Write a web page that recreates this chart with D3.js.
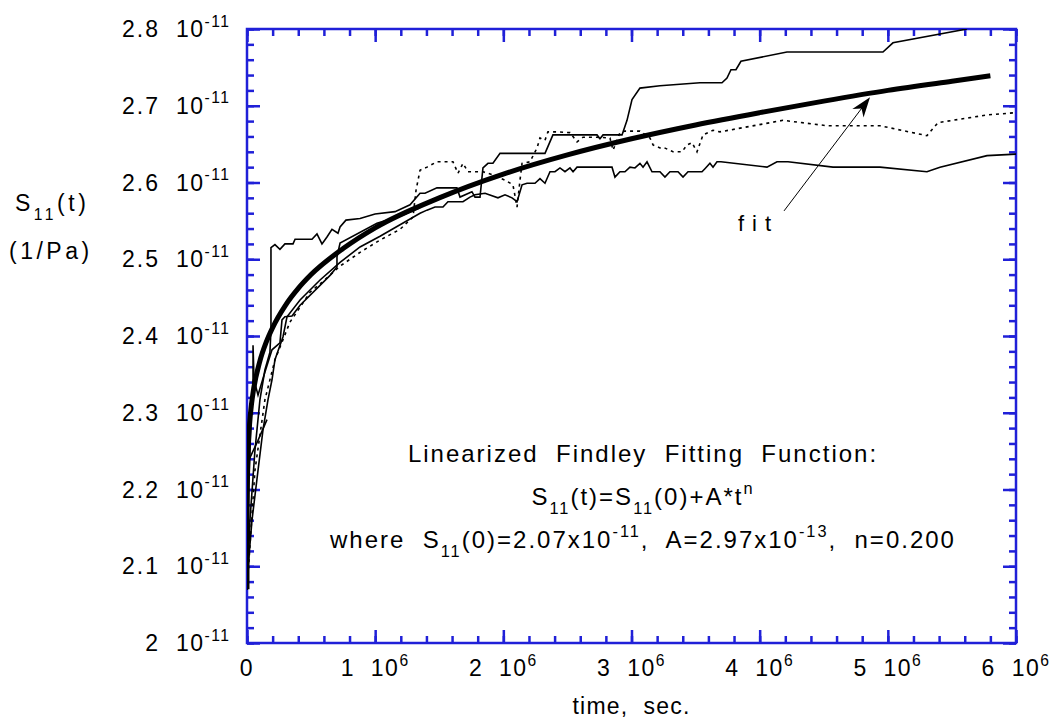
<!DOCTYPE html>
<html>
<head>
<meta charset="utf-8">
<script src="https://cdnjs.cloudflare.com/ajax/libs/d3/7.8.5/d3.min.js"></script>
<style>
  body { margin: 0; background: #fff; }
  svg text { font-family: "Liberation Sans", Arial, Helvetica, sans-serif; fill: #000; white-space: pre; }
</style>
</head>
<body>
<div id="chart"></div>
<script>
// Creep compliance S11(t) vs time. time in units of 1e6 s, compliance in units of 1e-11 1/Pa

// upper solid specimen
var specATime = [0, 0.023, 0.062, 0.101, 0.140, 0.179, 0.187, 0.187, 0.218, 0.257, 0.296, 0.359, 0.375, 0.507, 0.546, 0.585, 0.624, 0.663, 0.710, 0.726, 0.772, 0.882, 0.999, 1.155, 1.272, 1.350, 1.389, 1.482, 1.638, 1.662, 1.755, 1.779, 1.818, 1.841, 1.880, 1.919, 1.974, 2.325, 2.387, 2.731, 2.754, 2.778, 2.926, 2.965, 3.004, 3.066, 3.222, 3.534, 3.706, 3.745, 3.776, 3.815, 3.854, 4.213, 4.962, 5.040, 5.618];
var specAValue = [2.069, 2.160, 2.251, 2.317, 2.356, 2.379, 2.408, 2.515, 2.519, 2.513, 2.520, 2.520, 2.526, 2.526, 2.533, 2.520, 2.529, 2.539, 2.534, 2.542, 2.551, 2.553, 2.559, 2.562, 2.571, 2.586, 2.586, 2.593, 2.593, 2.581, 2.588, 2.581, 2.581, 2.619, 2.625, 2.625, 2.638, 2.638, 2.662, 2.662, 2.657, 2.662, 2.662, 2.681, 2.708, 2.723, 2.726, 2.730, 2.730, 2.736, 2.747, 2.747, 2.758, 2.770, 2.770, 2.782, 2.800];

// lower solid specimen
var specBTime = [0, 0.039, 0.086, 0.125, 0.164, 0.195, 0.218, 0.281, 0.312, 0.414, 0.570, 0.726, 0.882, 1.038, 1.194, 1.350, 1.404, 1.467, 1.529, 1.568, 1.685, 1.740, 1.779, 1.857, 1.958, 2.013, 2.068, 2.107, 2.146, 2.185, 2.247, 2.286, 2.325, 2.364, 2.403, 2.442, 2.481, 2.520, 2.544, 2.575, 2.848, 2.871, 2.910, 2.949, 2.988, 3.027, 3.066, 3.090, 3.121, 3.160, 3.222, 3.261, 3.300, 3.363, 3.402, 3.441, 3.550, 3.573, 3.612, 3.636, 3.667, 3.698, 4.057, 4.135, 4.221, 4.572, 4.939, 5.305, 5.407, 5.774, 6.000];
var specBValue = [2.082, 2.160, 2.225, 2.278, 2.317, 2.343, 2.369, 2.399, 2.425, 2.447, 2.473, 2.496, 2.516, 2.530, 2.545, 2.560, 2.564, 2.568, 2.568, 2.575, 2.575, 2.581, 2.584, 2.586, 2.580, 2.584, 2.580, 2.575, 2.597, 2.599, 2.599, 2.605, 2.599, 2.614, 2.614, 2.619, 2.614, 2.619, 2.614, 2.620, 2.620, 2.607, 2.614, 2.614, 2.620, 2.619, 2.625, 2.620, 2.627, 2.614, 2.614, 2.607, 2.614, 2.614, 2.607, 2.614, 2.614, 2.618, 2.625, 2.620, 2.627, 2.627, 2.620, 2.627, 2.627, 2.620, 2.620, 2.614, 2.620, 2.635, 2.637];

// dotted specimen
var specCTime = [0, 0.062, 0.140, 0.218, 0.335, 0.492, 0.585, 0.726, 0.882, 1.038, 1.194, 1.295, 1.319, 1.350, 1.404, 1.482, 1.607, 1.646, 1.685, 1.724, 1.841, 1.919, 2.013, 2.075, 2.107, 2.130, 2.146, 2.208, 2.263, 2.286, 2.325, 2.348, 2.419, 2.520, 2.575, 2.622, 2.731, 2.832, 2.856, 2.910, 2.949, 3.066, 3.144, 3.168, 3.222, 3.246, 3.324, 3.394, 3.433, 3.472, 3.511, 3.558, 3.636, 3.690, 4.182, 4.525, 4.939, 5.305, 5.391, 5.774, 6.000];
var specCValue = [2.069, 2.225, 2.317, 2.369, 2.418, 2.457, 2.470, 2.491, 2.509, 2.525, 2.539, 2.555, 2.590, 2.616, 2.620, 2.627, 2.627, 2.612, 2.625, 2.614, 2.614, 2.610, 2.603, 2.597, 2.568, 2.603, 2.625, 2.627, 2.645, 2.658, 2.655, 2.666, 2.666, 2.665, 2.653, 2.659, 2.659, 2.658, 2.642, 2.665, 2.667, 2.667, 2.658, 2.649, 2.645, 2.646, 2.640, 2.640, 2.649, 2.652, 2.640, 2.662, 2.668, 2.666, 2.681, 2.674, 2.674, 2.661, 2.678, 2.688, 2.691];

// short early specimens
var specDTime = [0.008, 0.086, 0.156];
var specDValue = [2.236, 2.264, 2.291];
var specETime = [0, 0.016, 0.031, 0.047, 0.047, 0.055, 0.086, 0.140, 0.195, 0.257, 0.273, 0.296, 0.351, 0.414, 0.570, 0.648, 0.702, 0.702, 0.726, 1.014, 1.194, 1.350];
var specEValue = [2.089, 2.212, 2.291, 2.345, 2.388, 2.343, 2.323, 2.353, 2.382, 2.391, 2.421, 2.425, 2.426, 2.440, 2.466, 2.479, 2.490, 2.503, 2.521, 2.547, 2.556, 2.567];

// Findley fit
var fitTime = [0, 0.0002, 0.001, 0.003, 0.005, 0.01, 0.02, 0.035, 0.05, 0.1, 0.15, 0.2, 0.3, 0.4, 0.5, 0.75, 1, 1.5, 2, 2.5, 3, 3.5, 4, 4.5, 5, 5.5, 5.8];
var fitValue = [2.070, 2.156, 2.188, 2.217, 2.233, 2.257, 2.285, 2.311, 2.329, 2.367, 2.392, 2.411, 2.440, 2.462, 2.480, 2.514, 2.541, 2.580, 2.611, 2.636, 2.657, 2.675, 2.691, 2.706, 2.720, 2.732, 2.739];

// axis ticks
var xMajor = [0, 1, 2, 3, 4, 5, 6];
var xLabels = ["0", "1", "2", "3", "4", "5", "6"];
var yMajor = [2.0, 2.1, 2.2, 2.3, 2.4, 2.5, 2.6, 2.7, 2.8];
var yLabels = ["2", "2.1", "2.2", "2.3", "2.4", "2.5", "2.6", "2.7", "2.8"];

var width = 1055, height = 723;
var margin = {top: 29, right: 39, bottom: 80, left: 247};
var axisColor = "#2020d8";

var svg = d3.select("#chart").append("svg")
    .attr("width", width)
    .attr("height", height);

var x = d3.scaleLinear().domain([0, 6]).range([margin.left, width - margin.right]);
var y = d3.scaleLinear().domain([2.0, 2.8]).range([height - margin.bottom, margin.top]);

var xMinor = d3.range(0, 6.0001, 0.2);
var yMinor = d3.range(2.0, 2.8001, 0.02);

// text with sub/superscripts, parts = [[text, "n"|"sub"|"sup"], ...]
function rich(sel, parts, size) {
    var cur = 0;
    parts.forEach(function (p) {
        var shift = p[1] === "sup" ? -size * 0.45 : (p[1] === "sub" ? size * 0.38 : 0);
        sel.append("tspan")
            .attr("dy", shift - cur)
            .attr("font-size", p[1] === "n" ? size : size * 0.68)
            .text(p[0]);
        cur = shift;
    });
}

// ticks on all four sides, pointing inward
function ticks(gen, tr, vals, len) {
    var g = svg.append("g")
        .attr("transform", tr)
        .call(gen.tickValues(vals).tickSize(-len).tickSizeOuter(0).tickFormat(""));
    g.select(".domain").remove();
    g.selectAll("line").attr("stroke", axisColor).attr("stroke-width", 2.5);
}
var x0 = height - margin.bottom, x1 = margin.top;
ticks(d3.axisBottom(x), "translate(0," + x0 + ")", xMinor, 7);
ticks(d3.axisBottom(x), "translate(0," + x0 + ")", xMajor, 13);
ticks(d3.axisTop(x), "translate(0," + x1 + ")", xMinor, 7);
ticks(d3.axisTop(x), "translate(0," + x1 + ")", xMajor, 13);
ticks(d3.axisLeft(y), "translate(" + margin.left + ",0)", yMinor, 7);
ticks(d3.axisLeft(y), "translate(" + margin.left + ",0)", yMajor, 13);
ticks(d3.axisRight(y), "translate(" + (width - margin.right) + ",0)", yMinor, 7);
ticks(d3.axisRight(y), "translate(" + (width - margin.right) + ",0)", yMajor, 13);

svg.append("rect")
    .attr("x", x(0)).attr("y", y(2.8))
    .attr("width", x(6) - x(0)).attr("height", y(2.0) - y(2.8))
    .attr("fill", "none")
    .attr("stroke", axisColor)
    .attr("stroke-width", 2.5);

// tick labels
var fs = 23;
svg.append("g").selectAll("text")
    .data(xMajor)
    .enter().append("text")
    .attr("x", d => x(d))
    .attr("y", height - margin.bottom + 33)
    .attr("text-anchor", "middle")
    .style("letter-spacing", "1.5px")
    .each(function (d, i) {
        if (d === 0) rich(d3.select(this), [[xLabels[i], "n"]], fs);
        else rich(d3.select(this), [[xLabels[i] + "  10", "n"], ["6", "sup"]], fs);
    });

svg.append("g").selectAll("text")
    .data(yMajor)
    .enter().append("text")
    .attr("x", margin.left - 87)
    .attr("y", d => y(d) + 8)
    .attr("text-anchor", "end")
    .style("letter-spacing", "2px")
    .text((d, i) => yLabels[i])
    .attr("font-size", fs);

svg.append("g").selectAll("text")
    .data(yMajor)
    .enter().append("text")
    .attr("x", margin.left - 71)
    .attr("y", d => y(d) + 8)
    .style("letter-spacing", "1.5px")
    .each(function () {
        rich(d3.select(this), [["10", "n"], ["-11", "sup"]], fs);
    });

// axis titles
var yt1 = svg.append("text").attr("x", 15).attr("y", 211).style("letter-spacing", "3.5px");
rich(yt1, [["S", "n"], ["11", "sub"], ["(t)", "n"]], fs);
svg.append("text").attr("x", 9).attr("y", 259)
    .attr("font-size", fs).style("letter-spacing", "3.5px")
    .text("(1/Pa)");
svg.append("text")
    .attr("x", (x(0) + x(6)) / 2).attr("y", 714)
    .attr("text-anchor", "middle")
    .attr("font-size", fs).style("letter-spacing", "1.2px")
    .text("time,  sec.");

// data curves
svg.append("clipPath").attr("id", "plot")
    .append("rect")
    .attr("x", x(0)).attr("y", y(2.8))
    .attr("width", x(6) - x(0)).attr("height", y(2.0) - y(2.8));

var line = d3.line()
    .x(d => x(d[0]))
    .y(d => y(d[1]));

function zip(t, v) { return t.map((d, i) => [d, v[i]]); }

var series = [
    {pts: zip(specATime, specAValue), dash: null},
    {pts: zip(specBTime, specBValue), dash: null},
    {pts: zip(specCTime, specCValue), dash: "3,4"},
    {pts: zip(specDTime, specDValue), dash: null},
    {pts: zip(specETime, specEValue), dash: null}
];

var plot = svg.append("g").attr("clip-path", "url(#plot)");
plot.selectAll("path.spec")
    .data(series)
    .enter().append("path")
    .attr("class", "spec")
    .attr("d", d => line(d.pts))
    .attr("fill", "none")
    .attr("stroke", "#000")
    .attr("stroke-width", 1.6)
    .attr("stroke-dasharray", d => d.dash);

plot.append("path")
    .attr("d", line.curve(d3.curveMonotoneX)(zip(fitTime, fitValue)))
    .attr("fill", "none")
    .attr("stroke", "#000")
    .attr("stroke-width", 5)
    .attr("stroke-linecap", "butt");

// "fit" arrow
var arrowFrom = [4.19, 2.563], arrowTo = [4.861, 2.711];
var ax0 = x(arrowFrom[0]), ay0 = y(arrowFrom[1]), ax1 = x(arrowTo[0]), ay1 = y(arrowTo[1]);
var ang = Math.atan2(ay1 - ay0, ax1 - ax0);
svg.append("line")
    .attr("x1", ax0).attr("y1", ay0)
    .attr("x2", ax1 - 10 * Math.cos(ang)).attr("y2", ay1 - 10 * Math.sin(ang))
    .attr("stroke", "#000").attr("stroke-width", 1);
var hl = 20, hw = 7, back = 14;
var head = [
    [ax1, ay1],
    [ax1 - hl * Math.cos(ang) + hw * Math.sin(ang), ay1 - hl * Math.sin(ang) - hw * Math.cos(ang)],
    [ax1 - back * Math.cos(ang), ay1 - back * Math.sin(ang)],
    [ax1 - hl * Math.cos(ang) - hw * Math.sin(ang), ay1 - hl * Math.sin(ang) + hw * Math.cos(ang)]
];
svg.append("path")
    .attr("d", "M" + head.join("L") + "Z")
    .attr("fill", "#000");

svg.append("text")
    .attr("x", 738).attr("y", 231)
    .attr("font-size", 22).style("letter-spacing", "8px")
    .text("fit");

// fitting function annotation
var cx = 643, afs = 24;
svg.append("text")
    .attr("x", cx).attr("y", 462)
    .attr("text-anchor", "middle")
    .attr("font-size", afs).style("letter-spacing", "2px")
    .text("Linearized  Findley  Fitting  Function:");
var l2 = svg.append("text").attr("x", cx).attr("y", 505)
    .attr("text-anchor", "middle").style("letter-spacing", "2px");
rich(l2, [["S", "n"], ["11", "sub"], ["(t)=S", "n"], ["11", "sub"], ["(0)+A*t", "n"], ["n", "sup"]], afs);
var l3 = svg.append("text").attr("x", cx).attr("y", 548)
    .attr("text-anchor", "middle").style("letter-spacing", "2px");
rich(l3, [["where  S", "n"], ["11", "sub"], ["(0)=2.07x10", "n"], ["-11", "sup"], [",  A=2.97x10", "n"], ["-13", "sup"], [",  n=0.200", "n"]], afs);
</script>
</body>
</html>
